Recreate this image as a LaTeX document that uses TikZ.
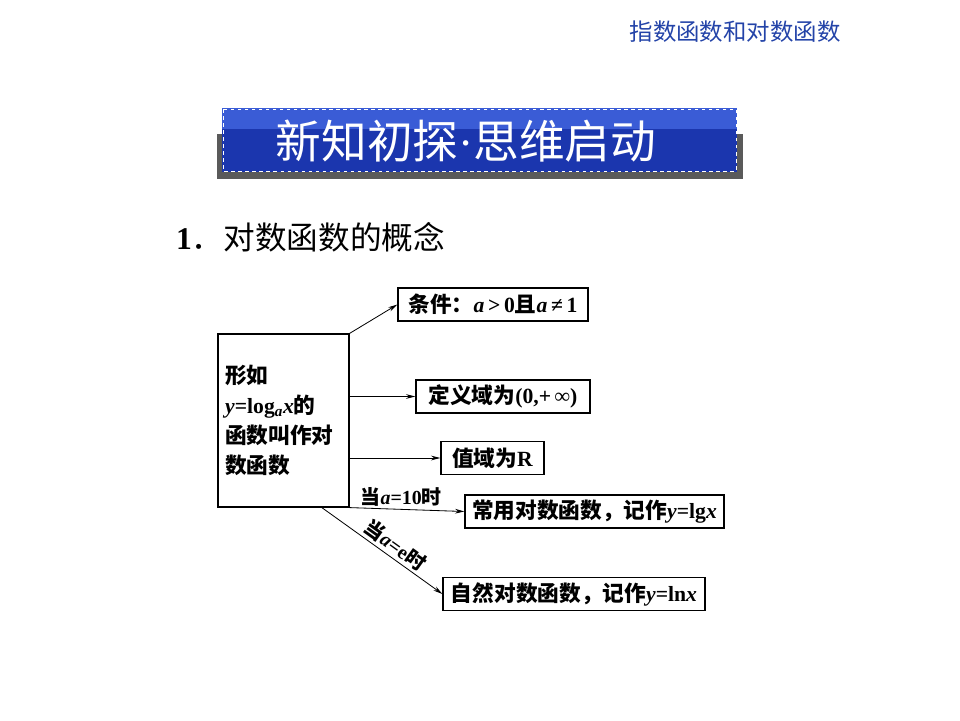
\documentclass[tikz,border=0pt]{standalone}
\usepackage{fontspec}
\setmainfont{Liberation Serif}
\newfontfamily\zh{Noto Sans CJK SC}
\usetikzlibrary{arrows.meta,positioning}
\definecolor{bannerlight}{HTML}{3A5CD6}
\definecolor{bannerdark}{HTML}{1B36AE}
\definecolor{shadowgray}{HTML}{5A5A5A}
\definecolor{titleblue}{HTML}{2343A8}

\begin{document}
\begin{tikzpicture}[x=0.03cm,y=-0.03cm,
  concept/.style={draw,line width=1pt,minimum height=0.99cm,inner xsep=0.1cm,font=\fontsize{18.5}{22}\selectfont\bfseries},
  cond label/.style={font=\fontsize{17}{20}\selectfont\bfseries,inner sep=2pt},
  link/.style={-{Stealth[length=8pt,width=4pt]},line width=0.7pt}]
\useasboundingbox (0,0) rectangle (960,720);
% header and banner
\node[text=titleblue,font=\zh\fontsize{20}{24}\selectfont] (head) at (735,32) {指数函数和对数函数};
\fill[shadowgray] (217,134) rectangle (743,179);
\fill[bannerdark] (222,108) rectangle (737,172);
\fill[bannerlight] (222,108) rectangle (737,129);
\draw[white,dashed,line width=0.6pt] (223,109) rectangle (736,171);
\node[white,font=\zh\fontsize{39}{44}\selectfont] (banner) at (466,141) {新知初探{\rmfamily ·}思维启动};
\node[anchor=west,font=\fontsize{27}{30}\selectfont] (sec) at (172,237) {\textbf{1}{\zh ．对数函数的概念}};
% concept map
\node[draw,line width=1pt,minimum width=3.93cm,minimum height=5.19cm,text width=3.5cm,inner xsep=0.2cm,align=left,font=\fontsize{18.5}{25.5}\selectfont\bfseries] (def) at (283.5,420.5)
  {{\zh 形如}\\ \textit{y}=log\textsubscript{\textit{a}}\textit{x}{\zh 的}\\ {\zh 函数叫作对}\\ {\zh 数函数}};
\node[concept,minimum width=5.7cm] (cond) at (493,304.5) {{\zh 条件：}\textit{a}{\,}>{\,}0{\zh 且}\textit{a}{\,}≠{\,}1};
\node[concept,minimum width=5.22cm] (domain) at (503,396.5) {{\zh 定义域为}(0,+{\,}∞)};
\node[concept,minimum width=3.09cm] (range) at (492.5,458) {{\zh 值域为}R};
\node[concept,minimum width=7.77cm] (common) at (594.5,511.5) {{\zh 常用对数函数，记作}\textit{y}=lg\textit{x}};
\node[concept,minimum width=7.86cm] (natural) at (574,594) {{\zh 自然对数函数，记作}\textit{y}=ln\textit{x}};
\draw[link] (def.north east) -- (cond.west);
\draw[link] (def.east |- domain) -- (domain.west);
\draw[link] (def.east |- range) -- (range.west);
\draw[link] (def.south east) -- node[cond label,above,pos=0.45] (ten) {{\zh 当}\textit{a}=10{\zh 时}} (common.west);
\draw[link] ([xshift=1.15cm]def.south) -- node[cond label,sloped,above,pos=0.55] (euler) {{\zh 当}\textit{a}=e{\zh 时}} (natural.west);
\end{tikzpicture}
\end{document}
